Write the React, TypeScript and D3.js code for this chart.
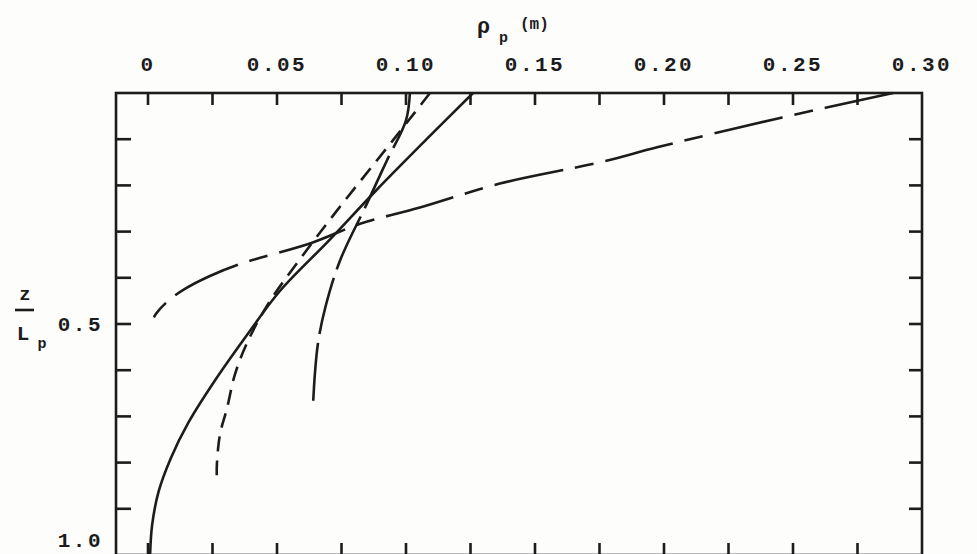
import * as d3 from 'd3';

// rho_p (m) vs z/Lp
const solidCurve: [number, number][] = [
  [0.126, 0], [0.108, 0.1], [0.0884, 0.211], [0.07, 0.32], [0.0512, 0.428],
  [0.0395, 0.515], [0.0262, 0.62], [0.0158, 0.712], [0.0088, 0.791],
  [0.0041, 0.863], [0.0016, 0.935], [0.0008, 1.0],
];
const shortDashCurve: [number, number][] = [
  [0.1093, 0], [0.095, 0.102], [0.0736, 0.252], [0.057, 0.374], [0.0465, 0.457],
  [0.0384, 0.541], [0.0337, 0.609], [0.0306, 0.683], [0.0279, 0.739],
  [0.0267, 0.804], [0.0267, 0.841],
];
const chainCurve: [number, number][] = [
  [0.1015, 0], [0.1, 0.059], [0.0926, 0.146], [0.0849, 0.239], [0.0744, 0.363],
  [0.0686, 0.467], [0.0659, 0.541], [0.0647, 0.607], [0.064, 0.672],
];
const longShortCurve: [number, number][] = [
  [0.2888, 0], [0.245, 0.054], [0.1977, 0.117], [0.1752, 0.15], [0.1364, 0.196],
  [0.1054, 0.248], [0.0822, 0.283], [0.0636, 0.324], [0.0357, 0.37], [0.024, 0.396],
  [0.0143, 0.424], [0.0078, 0.45], [0.0031, 0.478], [0.0008, 0.504],
];

const xTicks = [0, 0.025, 0.05, 0.075, 0.1, 0.125, 0.15, 0.175, 0.2, 0.225, 0.25, 0.275];
const xLabels = ['0', '0.05', '0.10', '0.15', '0.20', '0.25', '0.30'];
const xLabelVals = [0, 0.05, 0.1, 0.15, 0.2, 0.25, 0.3];
const yTicks = [0.1, 0.2, 0.3, 0.4, 0.5, 0.6, 0.7, 0.8, 0.9];
const yLabels = ['0.5', '1.0'];
const yLabelVals = [0.5, 1.0];

const W = 977, H = 554;
const INK = '#1c1c1c';
const FONT = '"Liberation Mono", "DejaVu Sans Mono", monospace';

const series = [
  { data: solidCurve, dash: 'none' },
  { data: shortDashCurve, dash: '15 9' },
  { data: chainCurve, dash: '58 9' },
  { data: longShortCurve, dash: '70 12 19 12' },
];

export default function App() {
  const x = d3.scaleLinear().domain([0, 0.3]).range([148, 922]);
  const y = d3.scaleLinear().domain([0, 1]).range([93, 555]);
  const x0 = x(-0.0124);
  const x1 = x(0.3);
  const line = d3.line<[number, number]>()
    .x(d => x(d[0])).y(d => y(d[1]))
    .curve(d3.curveCatmullRom.alpha(0.5));
  const tk = 12;

  return (
    <div style={{ position: 'fixed', left: 0, top: 0 }}>
      <svg width={W} height={H} style={{ display: 'block', background: '#fdfdfc' }}>
        {/* frame */}
        <rect x={x0} y={y(0)} width={x1 - x0} height={y(1) - y(0)}
          fill="none" stroke={INK} strokeWidth={2.6} />
        {xTicks.map(t => (
          <g key={t}>
            <line x1={x(t)} x2={x(t)} y1={y(0)} y2={y(0) + tk} stroke={INK} strokeWidth={2.6} />
            <line x1={x(t)} x2={x(t)} y1={y(1)} y2={y(1) - tk} stroke={INK} strokeWidth={2.6} />
          </g>
        ))}
        {yTicks.map(t => (
          <g key={t}>
            <line x1={x0} x2={x0 + 15} y1={y(t)} y2={y(t)} stroke={INK} strokeWidth={2.6} />
            <line x1={x1} x2={x1 - 13} y1={y(t)} y2={y(t)} stroke={INK} strokeWidth={2.6} />
          </g>
        ))}

        {/* curves */}
        {series.map((s, i) => (
          <path key={i} d={line(s.data) ?? ''} fill="none" stroke={INK}
            strokeWidth={2.6} strokeDasharray={s.dash} strokeLinecap="butt" />
        ))}

        {/* top axis labels */}
        <g fontFamily={FONT} fontWeight="bold" fontSize={21} fill={INK} textAnchor="middle">
          {xLabelVals.map((v, i) => (
            <text key={v} x={x(v)} y={71} letterSpacing={2.5}>{xLabels[i]}</text>
          ))}
        </g>
        <g fontFamily={FONT} fontWeight="bold" fill={INK}>
          <text x={477} y={33} fontSize={22}>ρ</text>
          <text x={499} y={42} fontSize={15}>p</text>
          <text x={520} y={29} fontSize={16}>(m)</text>
        </g>

        {/* left axis labels */}
        <g fontFamily={FONT} fontWeight="bold" fontSize={21} fill={INK} textAnchor="end">
          {yLabelVals.map((v, i) => (
            <text key={v} x={103} y={Math.min(y(v) + 7, 547)} letterSpacing={2.5}>{yLabels[i]}</text>
          ))}
        </g>
        <g fontFamily={FONT} fontWeight="bold" fill={INK}>
          <text x={25} y={300} fontSize={19} textAnchor="middle">z</text>
          <line x1={15} x2={34} y1={310} y2={310} stroke={INK} strokeWidth={2.6} />
          <text x={23} y={340} fontSize={21} textAnchor="middle">L</text>
          <text x={42} y={348} fontSize={15} textAnchor="middle">p</text>
        </g>
      </svg>
    </div>
  );
}
